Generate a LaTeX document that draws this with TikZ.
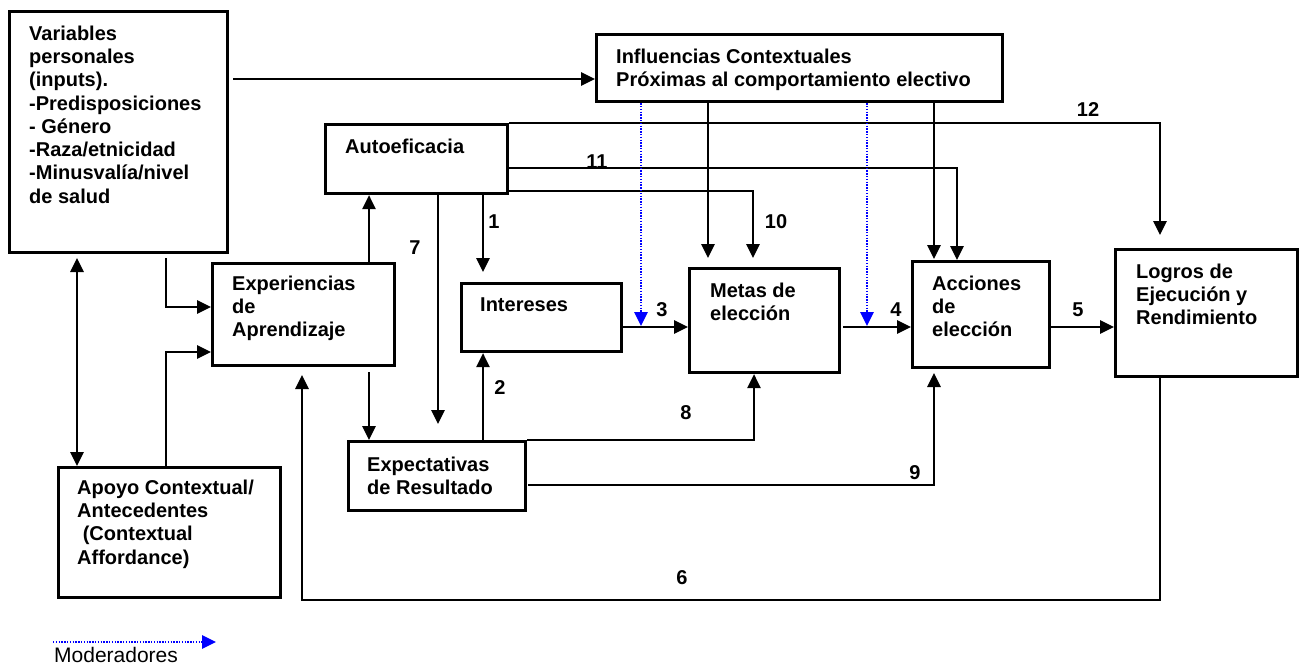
\documentclass[tikz,border=0pt]{standalone}
\usepackage{fontspec}
\setmainfont{Liberation Sans}
\usetikzlibrary{arrows.meta}
\begin{document}
\begin{tikzpicture}[x=1pt,y=-1pt,
  box/.style={draw, line width=3.2pt, rectangle, inner sep=0pt, anchor=north west},
  txt/.style={anchor=north west, inner sep=0pt, align=left, font=\fontsize{20}{23.3}\selectfont\bfseries},
  num/.style={inner sep=0pt, font=\fontsize{20}{23}\selectfont\bfseries},
  tip/.style={-{Triangle[length=14pt,width=13.5pt]}},
  conn/.style={line width=1.4pt, tip},
  modr/.style={blue, line width=1.4pt, dash pattern=on 1.4pt off 1.4pt, tip},
]
\useasboundingbox (0,0) rectangle (1303,667);

% boxes
\node[box, minimum width=218pt, minimum height=241pt] (var) at (8,10) {};
\node[box, minimum width=406pt, minimum height=67pt] (infl) at (595,33) {};
\node[box, minimum width=182pt, minimum height=69pt] (auto) at (324,123) {};
\node[box, minimum width=182pt, minimum height=102pt] (exp) at (211,262) {};
\node[box, minimum width=160pt, minimum height=68pt] (int) at (460,282) {};
\node[box, minimum width=150pt, minimum height=104pt] (metas) at (688,267) {};
\node[box, minimum width=137pt, minimum height=106pt] (acc) at (911,260) {};
\node[box, minimum width=182pt, minimum height=127pt] (logros) at (1114,248) {};
\node[box, minimum width=177pt, minimum height=69pt] (expect) at (347,440) {};
\node[box, minimum width=222pt, minimum height=130pt] (apoyo) at (57,466) {};

% texts
\node[txt] (tvar) at (29,25.5) {Variables\\personales\\(inputs).\\-Predisposiciones\\- Género\\-Raza/etnicidad\\-Minusvalía/nivel\\de salud};
\node[txt] (tinfl) at (616,48.5) {Influencias Contextuales\\Próximas al comportamiento electivo};
\node[txt] (tauto) at (345,138.5) {Autoeficacia};
\node[txt] (texp) at (232,275.5) {Experiencias\\de\\Aprendizaje};
\node[txt] (tint) at (480,297.5) {Intereses};
\node[txt] (tmetas) at (710,282.5) {Metas de\\elección};
\node[txt] (tacc) at (932,275.5) {Acciones\\de\\elección};
\node[txt] (tlogros) at (1136,263.5) {Logros de\\Ejecución y\\Rendimiento};
\node[txt] (texpect) at (367,456.5) {Expectativas\\de Resultado};
\node[txt] (tapoyo) at (77,479.5) {Apoyo Contextual/\\Antecedentes\\\hspace*{5.6pt}(Contextual\\Affordance)};

% helper coordinates
\coordinate (vS) at (233,79);
\coordinate (d1) at (77,258);
\coordinate (d2) at (166,258);
\coordinate (d2b) at (166,307);
\coordinate (d3) at (166,352);
\coordinate (d4) at (369,262);
\coordinate (d5) at (369,372);
\coordinate (d7) at (438,192);
\coordinate (d7e) at (438,424);
\coordinate (x483) at (483,272);
\coordinate (y327) at (0,327);
\coordinate (d4s) at (843,327);
\coordinate (d6a) at (1160,600);
\coordinate (d6b) at (302,600);
\coordinate (d6t) at (302,375);
\coordinate (d8) at (754,440);
\coordinate (d9s) at (528,485);
\coordinate (d9) at (934,485);
\coordinate (d9t) at (934,373);
\coordinate (d10) at (753,191);
\coordinate (d10t) at (753,258);
\coordinate (d11) at (957,168);
\coordinate (d12) at (1160,123);
\coordinate (d12t) at (1160,235);
\coordinate (x708) at (708,258);
\coordinate (x934) at (934,259);
\coordinate (m1) at (641,326);
\coordinate (m2) at (867,326);
\coordinate (lg1) at (53,642);
\coordinate (lg2) at (216,642);

% connectors
\draw[conn] (vS) -- (vS -| infl.west);
\draw[line width=1.4pt, {Triangle[length=14pt,width=13.5pt]}-{Triangle[length=14pt,width=13.5pt]}] (d1) -- (d1 |- apoyo.north);
\draw[conn] (d2) -- (d2b) -- (d2b -| exp.west);
\draw[conn] (d3 |- apoyo.north) -- (d3) -- (d3 -| exp.west);
\draw[conn] (d4) -- (d4 |- auto.south);
\draw[conn] (d5) -- (d5 |- expect.north);
\draw[conn] (d7) -- (d7e);
\draw[conn] (x483 |- auto.south) -- (x483);
\draw[conn] (x483 |- expect.north) -- (x483 |- int.south);
\draw[conn] (int.east |- y327) -- (metas.west |- y327);
\draw[conn] (d4s) -- (acc.west |- y327);
\draw[conn] (acc.east |- y327) -- (logros.west |- y327);
\draw[conn] (d6a |- logros.south) -- (d6a) -- (d6b) -- (d6t);
\draw[conn] (expect.east |- d8) -- (d8) -- (d8 |- metas.south);
\draw[conn] (d9s) -- (d9) -- (d9t);
\draw[conn] (auto.east |- d10) -- (d10) -- (d10t);
\draw[conn] (auto.east |- d11) -- (d11) -- (d11 |- acc.north);
\draw[conn] (auto.east |- d12) -- (d12) -- (d12t);
\draw[conn] (infl.south -| x708) -- (x708);
\draw[conn] (infl.south -| x934) -- (x934);
\draw[modr] (infl.south -| m1) -- (m1);
\draw[modr] (infl.south -| m2) -- (m2);

% numbers
\node[num] (n1) at (494,222) {1};
\node[num] (n2) at (500,388) {2};
\node[num] (n3) at (662,310) {3};
\node[num] (n4) at (896,310) {4};
\node[num] (n5) at (1078,310) {5};
\node[num] (n6) at (682,578) {6};
\node[num] (n7) at (415,248) {7};
\node[num] (n8) at (686,413) {8};
\node[num] (n9) at (915,473) {9};
\node[num] (n10) at (776,222) {10};
\node[num] (n11) at (597,162) {11};
\node[num] (n12) at (1088,110) {12};

% legend
\draw[modr] (lg1) -- (lg2);
\node[anchor=base west, inner sep=0pt, font=\fontsize{21}{24}\selectfont] (lgt) at (54,662) {Moderadores};
\end{tikzpicture}
\end{document}
